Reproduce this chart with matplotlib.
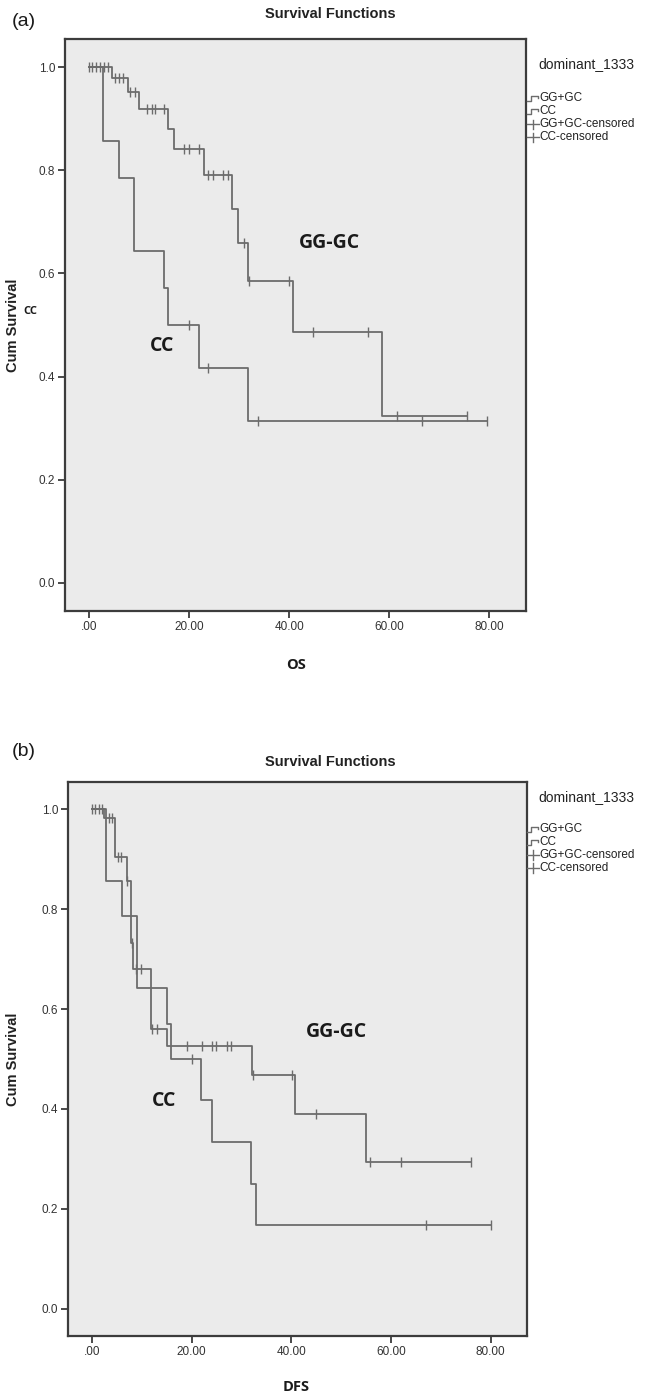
import numpy as np
import matplotlib
matplotlib.use("Agg")
import matplotlib.pyplot as plt
from matplotlib.lines import Line2D

# ----------------------------------------------------------------------
# Daten: Ereigniszeiten, Ueberlebensrate nach dem Ereignis,
# zensierte Zeiten
# ----------------------------------------------------------------------
# (a) OS
os_gg_t = [4.6, 7.8, 9.9, 15.8, 16.9, 22.9, 28.6, 29.8, 31.7, 40.7, 58.6]
os_gg_s = [0.979, 0.952, 0.920, 0.881, 0.842, 0.792, 0.726, 0.659, 0.586, 0.487, 0.324]
os_gg_c = [0.0, 0.6, 1.3, 2.1, 3.0, 3.8, 5.2, 6.0, 6.8, 8.1, 9.1, 11.6, 12.6, 13.2,
           15.0, 19.0, 20.0, 21.9, 23.8, 24.7, 26.8, 27.7, 30.9, 31.9, 39.9, 44.7,
           55.7, 61.6, 75.5]

os_cc_t = [2.8, 6.0, 8.9, 15.0, 15.8, 21.9, 31.7]
os_cc_s = [0.857, 0.786, 0.643, 0.571, 0.500, 0.417, 0.313]
os_cc_c = [20.0, 23.8, 33.8, 66.5, 79.6]

# (b) DFS
dfs_gg_t = [2.5, 4.7, 7.0, 7.9, 8.3, 11.9, 15.1, 32.1, 40.8, 55.0]
dfs_gg_s = [0.982, 0.904, 0.857, 0.733, 0.680, 0.561, 0.526, 0.468, 0.390, 0.294]
dfs_gg_c = [0.0, 0.7, 1.4, 2.1, 3.5, 4.1, 5.3, 5.8, 7.1, 8.1, 8.8, 9.8, 12.1, 13.1,
            19.0, 22.1, 24.1, 24.8, 27.1, 27.9, 32.3, 40.1, 45.0, 55.8, 62.0, 76.1]

dfs_cc_t = [2.9, 6.0, 9.0, 15.0, 15.8, 21.9, 24.0, 31.9, 33.0]
dfs_cc_s = [0.857, 0.786, 0.643, 0.571, 0.500, 0.417, 0.333, 0.250, 0.167]
dfs_cc_c = [20.0, 67.0, 80.0]

y_ticks = [0.0, 0.2, 0.4, 0.6, 0.8, 1.0]
x_ticks = [0, 20, 40, 60, 80]
x_ticklabels = [".00", "20.00", "40.00", "60.00", "80.00"]
legend_labels = ["GG+GC", "CC", "GG+GC-censored", "CC-censored"]

LINE = "#6c6c6c"
FRAME = "#3c3c3c"
BG = "#ebebeb"
SANS = "Liberation Sans"
W, H = 650, 1395


def fx(x):
    return x / W


def fy(y):
    return 1 - y / H


def km_kurve(ax, t, s, c):
    t = np.asarray(t)
    s = np.asarray(s)
    c = np.asarray(c)
    t_end = max(t.max(), c.max())
    tt = np.concatenate([[0.0], t, [t_end]])
    ss = np.concatenate([[1.0], s, [s[-1]]])
    ax.step(tt, ss, where="post", color=LINE, lw=1.3)
    # Niveau zum Zensierungszeitpunkt
    idx = np.searchsorted(t, c, side="right")
    sc = np.concatenate([[1.0], s])[idx]
    ax.plot(c, sc, ls="none", marker="|", ms=7, mew=1.0, color=LINE)


def panel(rect, curves, tag, xlab, xlab_y, title_y, tag_y, leg_y, gg_pos, cc_pos):
    ax = fig.add_axes(rect)
    ax.set_facecolor(BG)
    for t, s, c in curves:
        km_kurve(ax, t, s, c)
    ax.set_xlim(-4.8, 87.3)
    ax.set_ylim(-0.055, 1.055)
    ax.set_xticks(x_ticks)
    ax.set_xticklabels(x_ticklabels)
    ax.set_yticks(y_ticks)
    ax.set_yticklabels([f"{v:.1f}" for v in y_ticks])
    for sp in ax.spines.values():
        sp.set_color(FRAME)
        sp.set_linewidth(1.6)
    ax.tick_params(direction="out", length=5, width=1.3, color=FRAME,
                   labelsize=8.5, pad=2)
    for lab in ax.get_xticklabels() + ax.get_yticklabels():
        lab.set_family(SANS)
        lab.set_color("#333333")
    ax.set_ylabel("Cum Survival", fontsize=10.5, fontweight="bold",
                  family=SANS, color="#222222")
    ax.yaxis.set_label_coords(-(rect[0] * W - 20) / (rect[2] * W), 0.5)

    ax.text(*gg_pos, "GG-GC", fontsize=14, fontweight="bold", family="Open Sans",
            color="#1a1a1a", ha="center", va="center")
    ax.text(*cc_pos, "CC", fontsize=14, fontweight="bold", family="Open Sans",
            color="#1a1a1a", ha="center", va="center")

    fig.text(fx(296), fy(xlab_y), xlab, fontsize=10.5, fontweight="bold",
             family="Open Sans", color="#1a1a1a", ha="center", va="center")
    fig.text(fx(330), fy(title_y), "Survival Functions", fontsize=10.5,
             fontweight="bold", family=SANS, color="#222222",
             ha="center", va="center")
    fig.text(fx(12), fy(tag_y), tag, fontsize=14, family=SANS,
             color="#1a1a1a", ha="left", va="center")

    # Legende im SPSS-Stil
    fig.text(fx(538), fy(leg_y[0]), "dominant_1333", fontsize=10, family=SANS,
             color="#222222", ha="left", va="center")
    for i, lab in enumerate(legend_labels):
        yy = leg_y[i + 1]
        if i < 2:
            xs = [527, 531, 531, 538, 538]
            ys = [yy + 2.5, yy + 2.5, yy - 2.5, yy - 2.5, yy - 0.5]
            fig.add_artist(Line2D([fx(v) for v in xs], [fy(v) for v in ys],
                                  color=LINE, lw=1.0))
        else:
            fig.add_artist(Line2D([fx(527), fx(539)], [fy(yy), fy(yy)],
                                  color=LINE, lw=1.0))
            fig.add_artist(Line2D([fx(533), fx(533)], [fy(yy - 4.5), fy(yy + 4.5)],
                                  color=LINE, lw=1.0))
        fig.text(fx(539), fy(yy), lab, fontsize=8.5, family=SANS,
                 color="#222222", ha="left", va="center")
    return ax


fig = plt.figure(figsize=(W / 100, H / 100), dpi=100)

ax_a = panel([fx(65), fy(611), 461 / W, 572 / H],
             [(os_gg_t, os_gg_s, os_gg_c), (os_cc_t, os_cc_s, os_cc_c)],
             "(a)", "OS", 665, 14, 22, [64, 98, 111, 124, 137],
             (48.0, 0.66), (14.5, 0.46))
fig.text(fx(30), fy(311), "CC", fontsize=8, fontweight="bold", family="Open Sans",
         color="#1a1a1a", ha="center", va="center")

ax_b = panel([fx(68), fy(1336), 459 / W, 554 / H],
             [(dfs_gg_t, dfs_gg_s, dfs_gg_c), (dfs_cc_t, dfs_cc_s, dfs_cc_c)],
             "(b)", "DFS", 1387, 762, 752, [797, 829, 842, 855, 868],
             (49.0, 0.555), (14.5, 0.415))

fig.savefig("out.png", dpi=100)
